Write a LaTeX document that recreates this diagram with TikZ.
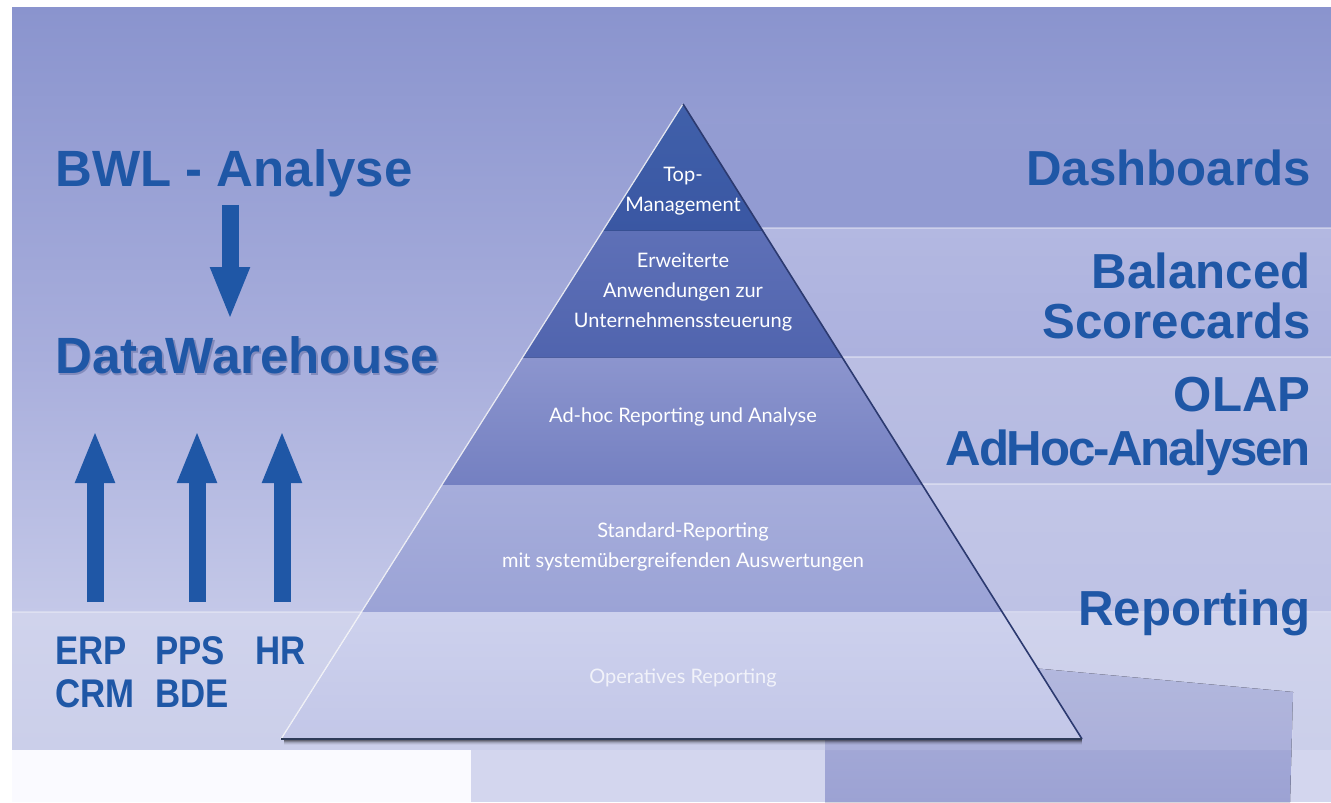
\documentclass[tikz,border=0pt]{standalone}
\usepackage{fontspec}
\setmainfont{Liberation Sans}
\newfontfamily\pyrfont{Lato}
\newfontfamily\condfont[FakeStretch=0.87]{Liberation Sans}
\usetikzlibrary{calc,arrows.meta}

\definecolor{dwblue}{HTML}{1F57A6}
\definecolor{dwshadow}{HTML}{2A3770}
\definecolor{bgtop}{HTML}{8A94CE}
\definecolor{bgmid}{HTML}{A8AEDC}
\definecolor{bglow}{HTML}{C4C8E8}
\definecolor{bandA}{HTML}{D0D3EC}
\definecolor{bandB}{HTML}{CBCFEA}
\definecolor{floor}{HTML}{D3D6EE}
\definecolor{photoA}{HTML}{ADB2DC}
\definecolor{photoB}{HTML}{9CA2D3}
\definecolor{layAa}{HTML}{4060AA}
\definecolor{layAb}{HTML}{3A57A3}
\definecolor{layBa}{HTML}{5E70B7}
\definecolor{layBb}{HTML}{5064AE}
\definecolor{layCa}{HTML}{8C95CE}
\definecolor{layCb}{HTML}{7480C1}
\definecolor{layDa}{HTML}{A6ADDB}
\definecolor{layDb}{HTML}{9BA3D6}
\definecolor{layEa}{HTML}{CDD1ED}
\definecolor{layEb}{HTML}{C3C7E8}
\definecolor{edgedark}{HTML}{2C3A70}
\definecolor{basedark}{HTML}{2E3B58}

\begin{document}
\begin{tikzpicture}[x=0.5pt,y=-0.5pt,
    big/.style={font=\fontsize{24.6}{26}\selectfont\bfseries, text=dwblue, inner sep=0pt},
    bigger/.style={big, font=\fontsize{25.5}{27}\selectfont\bfseries},
    mid/.style={font=\condfont\fontsize{20}{22}\selectfont\bfseries, text=dwblue, inner sep=0pt},
    layer/.style={font=\pyrfont\fontsize{10}{15}\selectfont, text=white, align=center, inner sep=0pt},
    fatarrow/.style={draw=dwblue, line width=8.5pt, -{Triangle[width=18pt,length=26.5pt]}}]
    \useasboundingbox (0,0) rectangle (1331,802);

    % Background
    \fill[white] (0,0) rectangle (1331,802);
    \fill[top color=bgtop, bottom color=bgmid] (12,8) rectangle (1331,357);
    \fill[top color=bgmid, bottom color=bglow] (12,357) rectangle (1331,612);
    \fill[top color=bandA, bottom color=bandB] (12,612) rectangle (1331,750);
    \fill[floor] (471,750) rectangle (1331,802);
    \fill[white!98!blue] (12,750) rectangle (471,802);

    % Bands on the right
    \fill[top color=bgtop!70!bgmid, bottom color=bgtop!75!bgmid] (683,125) rectangle (1331,228);
    \fill[top color={rgb,255:red,179;green,184;blue,225}, bottom color={rgb,255:red,172;green,177;blue,222}] (683,228) rectangle (1331,357);
    \fill[top color={rgb,255:red,186;green,190;blue,227}, bottom color={rgb,255:red,181;green,186;blue,225}] (683,357) rectangle (1331,484);
    \fill[top color={rgb,255:red,194;green,198;blue,231}, bottom color={rgb,255:red,190;green,194;blue,229}] (683,484) rectangle (1331,612);
    \foreach \y in {228,357,484,612}
        \draw[white, opacity=.35, line width=.8pt] (683,\y) -- (1331,\y);
    \draw[white, opacity=.3, line width=.8pt] (12,612) -- (683,612);

    % Photo in the corner
    \fill[top color=photoA, bottom color=photoB] (825,649) -- (1293,692) -- (1290,802) -- (825,802) -- cycle;
    \fill[white, opacity=.1] (825,649) -- (1293,692) -- (1293,750) -- (825,750) -- cycle;

    % Pyramid
    \coordinate (A) at (683,104);
    \coordinate (L) at (281,739);
    \coordinate (R) at (1082,739);
    \foreach \t/\u/\ca/\cb in {0/.2/layAa/layAb, .2/.4/layBa/layBb, .4/.6/layCa/layCb,
                                .6/.8/layDa/layDb, .8/1/layEa/layEb}
        \fill[top color=\ca, bottom color=\cb]
            ($(A)!\t!(L)$) -- ($(A)!\t!(R)$) -- ($(A)!\u!(R)$) -- ($(A)!\u!(L)$) -- cycle;
    \draw[white, opacity=.85, line width=.6pt] (A) -- (L);
    \draw[edgedark, line width=.8pt] (A) -- (R);
    % shadow under the base
    \foreach \d/\o in {1/.35,2/.25,3/.15,4/.08,5/.04}
        \draw[black, opacity=\o, line width=.6pt] ($(L)+(3,\d)$) -- ($(R)+(0,\d)$);
    \draw[basedark, line width=1.4pt] (L) -- (R);

    % Pyramid labels
    \node[layer] (top)  at (683,191) {Top-\\Management};
    \node[layer] (erw)  at (683,292) {Erweiterte\\Anwendungen zur\\Unternehmenssteuerung};
    \node[layer] (adh)  at (683,417) {Ad-hoc Reporting und Analyse};
    \node[layer] (std)  at (683,547) {Standard-Reporting\\mit systemübergreifenden Auswertungen};
    \node[layer, text opacity=.75] (ops) at (683,678) {Operatives Reporting};

    % Left side
    \node[bigger, anchor=base west] (bwl) at (55,187) {BWL - Analyse};
    \node[bigger, anchor=base west, text=dwshadow, text opacity=.3] (dwhs) at (56.5,375) {DataWarehouse};
    \node[bigger, anchor=base west] (dwh) at (55,373) {DataWarehouse};
    \node[mid, anchor=base west] (erp) at (55,664) {ERP};
    \node[mid, anchor=base west] (pps) at (155,664) {PPS};
    \node[mid, anchor=base west] (hr)  at (255,664) {HR};
    \node[mid, anchor=base west] (crm) at (55,707) {CRM};
    \node[mid, anchor=base west] (bde) at (155,707) {BDE};

    \coordinate (dtop) at (230,205);
    \coordinate (dtip) at (230,320);
    \draw[fatarrow] (dtop) -- (dtip);
    \foreach \n/\x in {erp/95,pps/197,hr/282} {
        \coordinate (\n foot) at (\x,602);
        \coordinate (\n tip)  at (\x,430);
        \draw[fatarrow] (\n foot) -- (\n tip);
    }

    % Right side
    \node[big, anchor=base east] (dash)  at (1311,186) {Dashboards};
    \node[big, anchor=base east] (bal)   at (1311,288) {Balanced};
    \node[big, anchor=base east] (score) at (1311,338) {Scorecards};
    \node[big, anchor=base east] (olap)  at (1311,411) {OLAP};
    \node[big, anchor=base east, font=\addfontfeature{LetterSpace=-4.5}\fontsize{24.6}{26}\selectfont\bfseries] (ahoc) at (1311,465) {AdHoc-Analysen};
    \node[big, anchor=base east] (rep)   at (1311,625) {Reporting};
\end{tikzpicture}
\end{document}
